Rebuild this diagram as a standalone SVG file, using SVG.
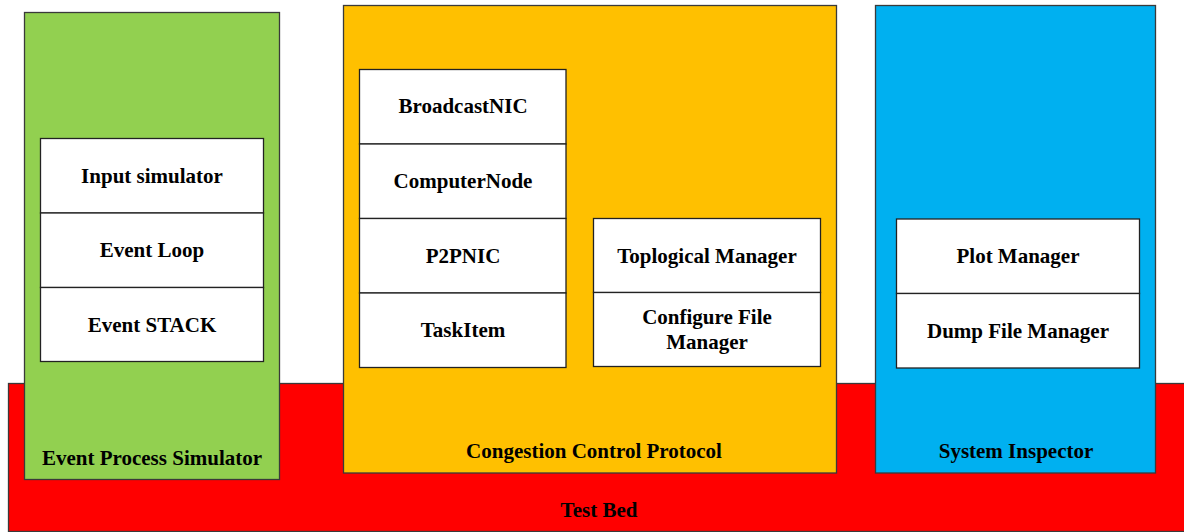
<svg xmlns="http://www.w3.org/2000/svg" width="1184" height="532" viewBox="0 0 1184 532">
<style>
.box{stroke:#3a3a3a;stroke-width:1.3}
.cell{fill:#ffffff;stroke:#222;stroke-width:1.3}
text{font-family:"Liberation Serif","Times New Roman",serif;font-weight:bold;font-size:21px;fill:#000;text-anchor:middle;dominant-baseline:central}
</style>
<g id="testbed">
<rect class="box" x="8.5" y="383.5" width="1180" height="148" fill="#FF0000"/>
<text x="599" y="510">Test Bed</text>
</g>
<g id="eps">
<rect class="box" x="24.5" y="12.5" width="255" height="467" fill="#92D050"/>
<text x="152" y="458">Event Process Simulator</text>
</g>
<g id="eps-input"><rect class="cell" x="40.5" y="138.5" width="223" height="74.5"/><text x="152" y="176">Input simulator</text></g>
<g id="eps-loop"><rect class="cell" x="40.5" y="213" width="223" height="74.5"/><text x="152" y="250">Event Loop</text></g>
<g id="eps-stack"><rect class="cell" x="40.5" y="287.5" width="223" height="74"/><text x="152" y="325">Event STACK</text></g>
<g id="ccp">
<rect class="box" x="343.5" y="5.5" width="493" height="467.5" fill="#FFC000"/>
<text x="594" y="451">Congestion Control Protocol</text>
</g>
<g id="ccp-bnic"><rect class="cell" x="359.5" y="69.5" width="206.5" height="74.5"/><text x="463" y="106">BroadcastNIC</text></g>
<g id="ccp-cnode"><rect class="cell" x="359.5" y="144" width="206.5" height="74.5"/><text x="463" y="181">ComputerNode</text></g>
<g id="ccp-p2p"><rect class="cell" x="359.5" y="218.5" width="206.5" height="74.5"/><text x="463" y="256">P2PNIC</text></g>
<g id="ccp-task"><rect class="cell" x="359.5" y="293" width="206.5" height="74.5"/><text x="463" y="330">TaskItem</text></g>
<g id="ccp-topo"><rect class="cell" x="593.5" y="218.5" width="227" height="74"/><text x="707" y="256">Toplogical Manager</text></g>
<g id="ccp-conf"><rect class="cell" x="593.5" y="292.5" width="227" height="74"/><text x="707" y="317">Configure File</text><text x="707" y="342">Manager</text></g>
<g id="si">
<rect class="box" x="875.5" y="5.5" width="280" height="467.5" fill="#00B0F0"/>
<text x="1016" y="451">System Inspector</text>
</g>
<g id="si-plot"><rect class="cell" x="896.5" y="219" width="243" height="74.5"/><text x="1018" y="256">Plot Manager</text></g>
<g id="si-dump"><rect class="cell" x="896.5" y="293.5" width="243" height="74.5"/><text x="1018" y="331">Dump File Manager</text></g>
<g id="connectors"></g>
</svg>
